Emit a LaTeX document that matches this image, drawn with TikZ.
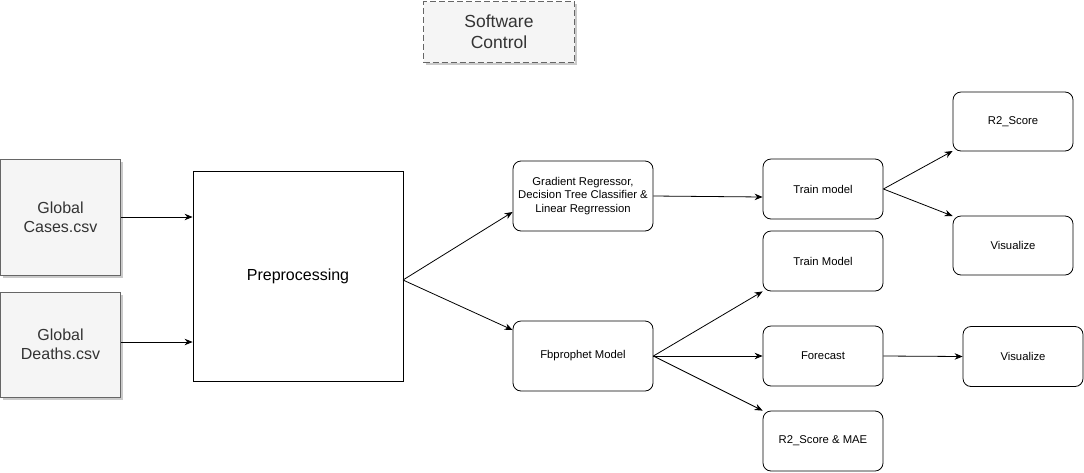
\documentclass[tikz,border=0pt]{standalone}
\usepackage{fontspec}
\setmainfont{Liberation Sans}
\usetikzlibrary{arrows.meta,shadows}
\definecolor{boxfill}{HTML}{F5F5F5}
\definecolor{boxline}{HTML}{666666}
\definecolor{txtgray}{HTML}{333333}
\tikzset{
  px/.style={x=1pt,y=-1pt},
  graybox/.style={draw=boxline,fill=boxfill,text=txtgray,line width=0.8pt,
    drop shadow={shadow xshift=2.5pt,shadow yshift=-2.5pt,fill=black!35,opacity=0.6},
    font=\fontsize{16}{19}\selectfont,align=center,inner sep=0pt},
  plainbox/.style={draw=black,line width=0.8pt,align=center,inner sep=0pt,font=\fontsize{16}{19}\selectfont},
  rbox/.style={draw=black,line width=0.8pt,rounded corners=8pt,align=center,inner sep=0pt,
    font=\fontsize{11.3}{13.3}\selectfont},
  conn/.style={draw=black,line width=0.8pt,-{Stealth[length=8pt,width=6.5pt]}},
}
\begin{document}
\begin{tikzpicture}[px]
\useasboundingbox (0,0) rectangle (1084,472);
% Software Control
\node[graybox,line width=1.3pt,dash pattern=on 6pt off 3pt,minimum width=151pt,minimum height=61pt,font=\fontsize{17.5}{21}\selectfont] (sw) at (499,32) {Software\\Control};
% inputs
\node[graybox,minimum width=120pt,minimum height=116pt] (cases) at (60.5,217) {Global\\Cases.csv};
\node[graybox,minimum width=120pt,minimum height=105pt] (deaths) at (60.5,344.5) {Global\\Deaths.csv};
\node[plainbox,minimum width=210pt,minimum height=210pt] (pre) at (298,276) {Preprocessing};
% models
\node[rbox,minimum width=140pt,minimum height=70pt] (grad) at (583,196) {Gradient Regressor,\\Decision Tree Classifier \&\\Linear Regrression};
\node[rbox,minimum width=140pt,minimum height=70pt] (fb) at (583,356) {Fbprophet Model};
% right side
\node[rbox,minimum width=120pt,minimum height=60pt] (train1) at (823,189) {Train model};
\node[rbox,minimum width=120pt,minimum height=59pt] (r2) at (1013,121.5) {R2\_Score};
\node[rbox,minimum width=120pt,minimum height=59pt] (vis1) at (1013,245.5) {Visualize};
\node[rbox,minimum width=120pt,minimum height=60pt] (train2) at (823,261) {Train Model};
\node[rbox,minimum width=120pt,minimum height=60pt] (fc) at (823,356) {Forecast};
\node[rbox,minimum width=120pt,minimum height=60pt] (vis2) at (1023,356.5) {Visualize};
\node[rbox,minimum width=120pt,minimum height=60pt] (r2mae) at (823,441) {R2\_Score \& MAE};
% connectors
\coordinate (preR) at (403,280);
\draw[conn] (cases.east |- 0,217) -- (pre.west |- 0,217);
\draw[conn] (deaths.east |- 0,342) -- (pre.west |- 0,342);
\draw[conn] (preR) -- (grad.west |- 0,212);
\draw[conn] (preR) -- (fb.west |- 0,330);
\draw[conn] (grad.east |- 0,196) -- (train1.west |- 0,197);
\draw[conn] (train1.east) -- (r2.west |- 0,151);
\draw[conn] (train1.east) -- (vis1.west |- 0,216);
\draw[conn] (fb.east) -- (train2.south west);
\draw[conn] (fb.east) -- (fc.west);
\draw[conn] (fb.east) -- (r2mae.north west);
\draw[conn] (fc.east) -- (vis2.west);
\end{tikzpicture}
\end{document}
